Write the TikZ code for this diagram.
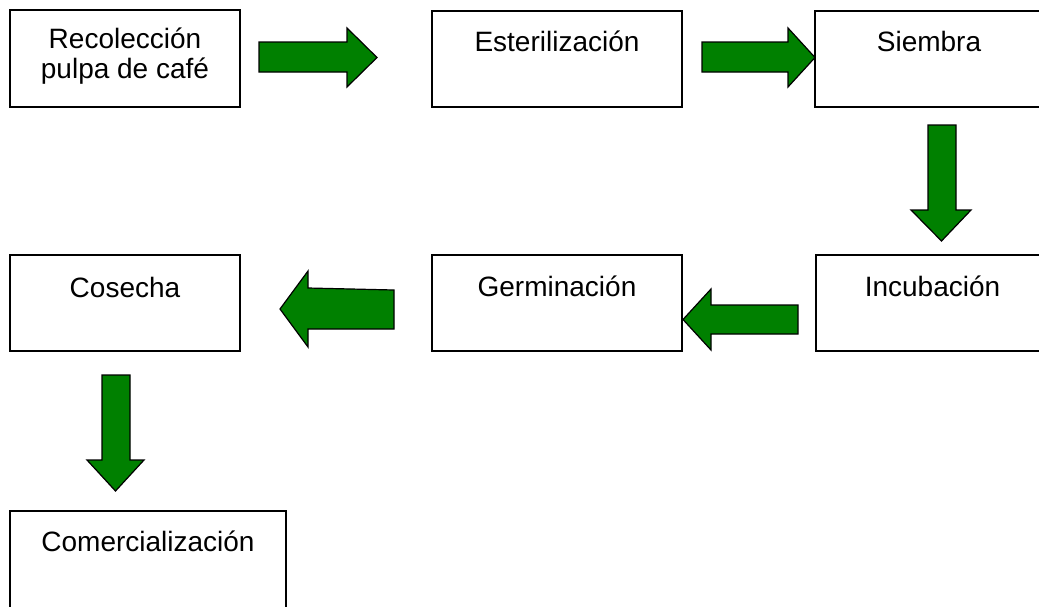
\documentclass[tikz,border=0pt]{standalone}
\usepackage{fontspec}
\setmainfont{Liberation Sans}
\usepackage{xcolor}
\usepackage{tikz}
\usetikzlibrary{positioning}

\definecolor{arrowgreen}{RGB}{0,128,0}

\tikzset{
    stepbox/.style={draw=black, line width=2.4pt, rectangle, inner sep=0pt},
    steplabel/.style={font=\fontsize{28pt}{30pt}\selectfont, align=center, anchor=base, inner sep=0pt},
    blockarrow/.style={draw=black, fill=arrowgreen, line width=1.2pt, line join=miter}
}

\begin{document}
\begin{tikzpicture}[x=1pt, y=-1pt]
    \clip (0,0) rectangle (1039,606);
    \fill[white] (0,0) rectangle (1039,606);

    % Process boxes
    \node[stepbox, minimum width=230pt, minimum height=97pt] (recoleccion) at (125,58.5) {};
    \node[stepbox, minimum width=250pt, minimum height=96pt] (esterilizacion) at (557,59) {};
    \node[stepbox, minimum width=228pt, minimum height=96pt] (siembra) at (929,59) {};
    \node[stepbox, minimum width=233pt, minimum height=96pt] (incubacion) at (932.5,303) {};
    \node[stepbox, minimum width=250pt, minimum height=96pt] (germinacion) at (557,303) {};
    \node[stepbox, minimum width=230pt, minimum height=96pt] (cosecha) at (125,303) {};
    \node[stepbox, minimum width=276pt, minimum height=110pt] (comercializacion) at (148,566) {};

    % Box texts
    \node[steplabel] (tRecoleccion) at ([yshift=-70pt]recoleccion.north) {Recolección\\pulpa de café};
    \node[steplabel] (tEsterilizacion) at ([yshift=-42pt]esterilizacion.north) {Esterilización};
    \node[steplabel] (tSiembra) at ([yshift=-42pt]siembra.north) {Siembra};
    \node[steplabel] (tIncubacion) at ([yshift=-43pt]incubacion.north) {Incubación};
    \node[steplabel] (tGerminacion) at ([yshift=-43pt]germinacion.north) {Germinación};
    \node[steplabel] (tCosecha) at ([yshift=-44pt]cosecha.north) {Cosecha};
    \node[steplabel] (tComercializacion) at ([yshift=-42pt]comercializacion.north) {Comercialización};

    % Block arrows, right
    \draw[blockarrow] (259,42) -- (347,42) -- (347,28) -- (377,57.5) -- (347,87) -- (347,72) -- (259,72) -- cycle;
    \draw[blockarrow] (702,42) -- (788,42) -- (788,28) -- (815,57.5) -- (788,87) -- (788,72) -- (702,72) -- cycle;
    % Block arrows, down
    \draw[blockarrow] (928,125) -- (956,125) -- (956,210) -- (971,210) -- (941.5,241) -- (911,210) -- (928,210) -- cycle;
    \draw[blockarrow] (102,375) -- (130,375) -- (130,460) -- (144,460) -- (115.5,491) -- (87,460) -- (102,460) -- cycle;
    % Block arrows, left
    \draw[blockarrow] (798,305) -- (711,305) -- (711,289) -- (683,319.5) -- (711,350) -- (711,334) -- (798,334) -- cycle;
    \draw[blockarrow] (394,290) -- (308,288) -- (308,271) -- (280,309) -- (308,347) -- (308,329) -- (394,329) -- cycle;
\end{tikzpicture}
\end{document}
